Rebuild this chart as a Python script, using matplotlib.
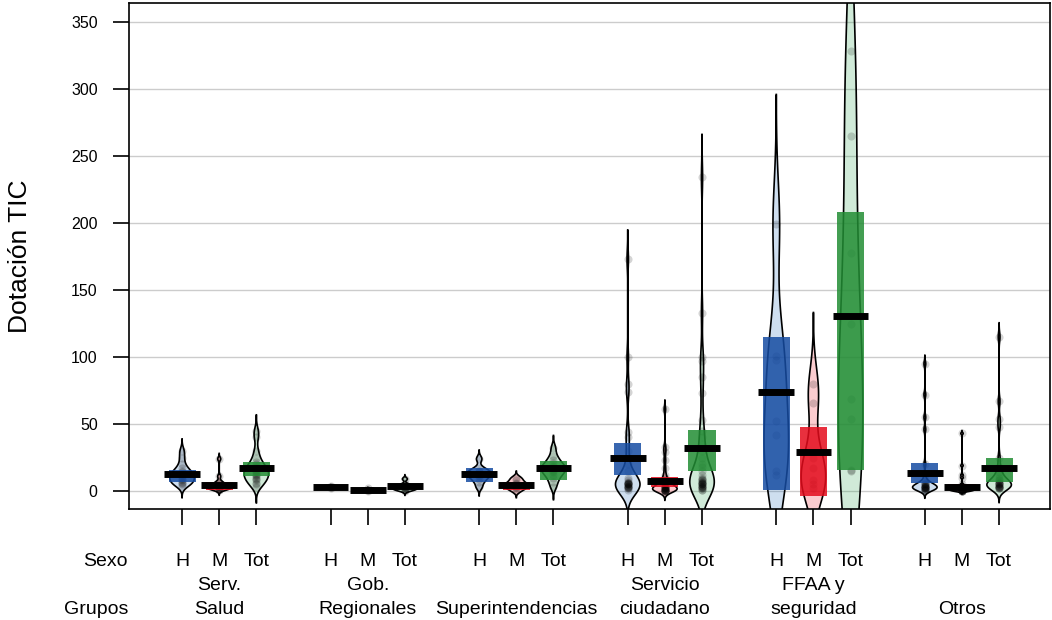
import numpy as np
import matplotlib
matplotlib.use("Agg")
import matplotlib.pyplot as plt
from matplotlib.patches import Rectangle
from matplotlib.transforms import blended_transform_factory

plt.rcParams['font.family'] = ['Liberation Sans', 'DejaVu Sans']

# --- data ---
grupos = ["Serv.\nSalud", "Gob.\nRegionales", "Superintendencias",
          "Servicio\nciudadano", "FFAA y\nseguridad", "Otros"]
sexos = ["H", "M", "Tot"]

puntos_H = [
    [4, 5, 6, 7, 8, 9, 10, 11, 12, 13, 14, 15, 17, 20, 25, 30],
    [2, 3, 3, 4],
    [3, 7, 9, 11, 12, 13, 14, 15, 17, 24],
    [173, 100, 80, 74, 44, 40, 30, 20, 15, 10, 8, 7, 6, 6, 5, 5, 5, 4, 4, 3, 3, 2, 2, 1, 3, 5, 6],
    [199, 101, 98, 52, 42, 15, 12],
    [95, 72, 55, 46, 20, 12, 8, 6, 5, 4, 4, 3, 3, 2, 2, 1, 1, 1, 2, 3, 5, 6, 4, 2, 1],
]
puntos_M = [
    [1, 1, 2, 2, 2, 3, 3, 3, 4, 4, 5, 6, 7, 11, 24],
    [0, 1, 1, 2],
    [0, 2, 3, 4, 5, 6, 8, 10],
    [61, 33, 29, 23, 17, 12, 10, 8, 7, 6, 5, 5, 4, 4, 3, 3, 2, 2, 1, 1, 0, 0, 0, 1, 1, 1, 2, 2, 1, 0],
    [80, 66, 25, 17, 8, 5, 2],
    [43, 19, 12, 10, 5, 4, 3, 3, 2, 2, 1, 1, 1, 0, 0, 0, 1, 2, 1, 0, 3, 2, 1, 0, 1],
]
puntos_Tot = [
    [3, 5, 6, 8, 9, 10, 11, 12, 13, 14, 15, 16, 17, 18, 20, 22, 25, 30, 40, 45],
    [0, 1, 1, 2, 2, 3, 3, 4, 5, 9],
    [3, 7, 10, 12, 14, 15, 16, 17, 18, 19, 21, 23, 26, 32],
    [234, 133, 100, 97, 85, 73, 53, 45, 40, 35, 30, 25, 20, 18, 15, 12, 10, 9, 8, 8,
     7, 7, 6, 6, 5, 5, 5, 4, 4, 3, 3, 2, 2, 1, 1],
    [328, 265, 178, 125, 69, 54, 16, 15],
    [115, 67, 54, 48, 25, 18, 14, 12, 10, 8, 7, 6, 5, 5, 4, 4, 3, 3, 2, 2, 6, 8, 5, 3, 2],
]

media_H = [12.7, 3.0, 12.7, 24.6, 74.0, 13.7]
media_M = [4.5, 1.0, 4.5, 7.7, 29.0, 3.2]
media_Tot = [17.0, 3.5, 17.0, 31.8, 131.0, 17.4]

inf_H = [(7.0, 15.7), (2.0, 4.0), (6.5, 17.5), (12.0, 35.8), (0.7, 115.0), (6.0, 21.0)]
inf_M = [(1.0, 6.5), (0.3, 1.7), (0.7, 6.5), (3.2, 10.7), (-3.7, 48.0), (0.7, 5.5)]
inf_Tot = [(11.0, 21.6), (2.5, 4.5), (8.5, 22.7), (15.0, 45.5), (16.0, 208.0), (7.0, 25.0)]

# bean colours and (slightly darker) band colours
colores = {"H": "#0C5BB0", "M": "#EE0011", "Tot": "#15983D"}
colores_inf = {"H": "#164CA2", "M": "#E40B1C", "Tot": "#228D34"}

puntos = {"H": puntos_H, "M": puntos_M, "Tot": puntos_Tot}
medias = {"H": media_H, "M": media_M, "Tot": media_Tot}
infs = {"H": inf_H, "M": inf_M, "Tot": inf_Tot}


def bw_nrd0(x):
    """Silverman rule of thumb, like R's bw.nrd0"""
    x = np.asarray(x, float)
    sd = x.std(ddof=1)
    iqr = (np.percentile(x, 75) - np.percentile(x, 25)) / 1.34
    lo = min(sd, iqr)
    if lo <= 0:
        lo = sd if sd > 0 else 1.0
    return 0.9 * lo * len(x) ** -0.2


def densidad(x):
    """Gaussian kde, scaled so the max is 1"""
    x = np.asarray(x, float)
    bw = bw_nrd0(x)
    y = np.linspace(x.min() - 3 * bw, x.max() + 3 * bw, 512)
    d = np.exp(-0.5 * ((y[:, None] - x[None, :]) / bw) ** 2).sum(axis=1)
    return y, d / d.max()


fig = plt.figure(figsize=(10.52, 6.2), dpi=100)
ax = fig.add_axes([0.1226, 0.179, 0.8755, 0.8162])

ancho_bean = 0.33
ancho_inf = 0.365
ancho_bar = 0.48

posiciones = []
for g in range(len(grupos)):
    for s, sx in enumerate(sexos):
        pos = g * 4 + s + 1
        posiciones.append(pos)
        pts = puntos[sx][g]

        # bean
        y, d = densidad(pts)
        xs = np.r_[pos - ancho_bean * d, (pos + ancho_bean * d)[::-1]]
        ys = np.r_[y, y[::-1]]
        ax.fill(xs, ys, facecolor=matplotlib.colors.to_rgba(colores[sx], 0.2),
                edgecolor="black", lw=1.2, zorder=2)

        # raw points
        ax.scatter([pos] * len(pts), pts, s=34, color="black", alpha=0.17,
                   lw=0, zorder=3)

        # inference band
        lo, hi = infs[sx][g]
        ax.add_patch(Rectangle((pos - ancho_inf, lo), 2 * ancho_inf, hi - lo,
                               facecolor=colores_inf[sx], alpha=0.85, lw=0, zorder=4))

        # mean line
        m = medias[sx][g]
        ax.plot([pos - ancho_bar, pos + ancho_bar], [m, m], color="black",
                lw=5, solid_capstyle="butt", zorder=5)

ax.set_xlim(-0.43, 24.37)
ax.set_ylim(-13.4, 364.2)

ax.set_yticks(range(0, 351, 50))
ax.yaxis.grid(True, color="#cccccc", lw=1)
ax.set_axisbelow(True)
ax.set_xticks(posiciones)
ax.set_xticklabels([])
ax.tick_params(axis="both", length=11.5, width=1.2, labelsize=11.5, color="black")
ax.tick_params(axis="y", pad=11)
for sp in ax.spines.values():
    sp.set_linewidth(1.2)
    sp.set_color("black")

fig.text(20 / 1052, 1 - 256 / 620, "Dotación TIC", rotation=90, fontsize=19,
         ha="center", va="center")

# bottom labels: sexo row and grupos rows
tr = blended_transform_factory(ax.transData, fig.transFigure)
tr_ax = blended_transform_factory(ax.transAxes, fig.transFigure)
y_sexo = 1 - 562 / 620
y_grupo = 1 - 609 / 620
paso = 23.5 / 620

ax.text(-0.001, y_sexo, "Sexo", transform=tr_ax, ha="right", va="center", fontsize=14)
ax.text(-0.001, y_grupo, "Grupos", transform=tr_ax, ha="right", va="center", fontsize=14)
for g, nombre in enumerate(grupos):
    for s, sx in enumerate(sexos):
        ax.text(g * 4 + s + 1, y_sexo, sx, transform=tr, ha="center",
                va="center", fontsize=14)
    lineas = nombre.split("\n")
    for k, linea in enumerate(reversed(lineas)):
        ax.text(g * 4 + 2, y_grupo + k * paso, linea, transform=tr,
                ha="center", va="center", fontsize=14)

fig.savefig("out.png", dpi=100)
